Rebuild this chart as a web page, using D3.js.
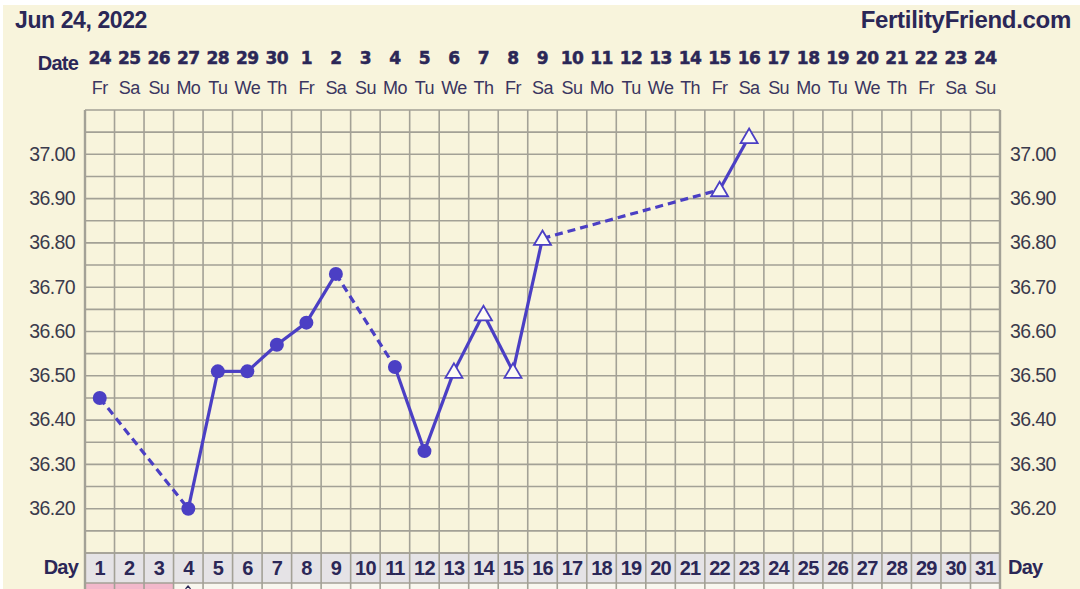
<!DOCTYPE html>
<html>
<head>
<meta charset="utf-8">
<script src="https://cdn.jsdelivr.net/npm/d3@7"></script>
<style>
  body { margin: 0; background: #fff; }
  svg text { font-family: "Liberation Sans", Arial, sans-serif; }
</style>
</head>
<body>
<div id="chart"></div>
<script>
// chart values
var days = d3.range(1, 32)
var dates = ["24","25","26","27","28","29","30","1","2","3","4","5","6","7","8","9","10","11","12","13","14","15","16","17","18","19","20","21","22","23","24"]
var weekdays = ["Fr","Sa","Su","Mo","Tu","We","Th","Fr","Sa","Su","Mo","Tu","We","Th","Fr","Sa","Su","Mo","Tu","We","Th","Fr","Sa","Su","Mo","Tu","We","Th","Fr","Sa","Su"]
var tempDays = [1, 4, 5, 6, 7, 8, 9, 11, 12, 13, 14, 15, 16, 22, 23]
var temps = [36.45, 36.20, 36.51, 36.51, 36.57, 36.62, 36.73, 36.52, 36.33, 36.51, 36.64, 36.51, 36.81, 36.92, 37.04]
var triangleFrom = 13
var pinkDays = [1, 2, 3]
var yTicks = [36.20, 36.30, 36.40, 36.50, 36.60, 36.70, 36.80, 36.90, 37.00]

var W = 1080, H = 589
var navy = "#2b2757", purple = "#4b3fc4", gridc = "#a3a196"
var gLeft = 85, gRight = 1000, gTop = 110, gBottom = 553

var svg = d3.select("#chart").append("svg")
    .attr("width", W).attr("height", H)

svg.append("rect").attr("x", 3).attr("y", 5).attr("width", W - 3).attr("height", H - 5).attr("fill", "#f8f4dc")

var x = d3.scaleBand().domain(days).range([gLeft, gRight])
var y = d3.scaleLinear().domain([36.10, 37.10]).range([gBottom, gTop])

// header
svg.append("text").attr("x", 15).attr("y", 28).text("Jun 24, 2022")
    .attr("font-size", 23).attr("font-weight", "bold").attr("fill", navy).attr("letter-spacing", -0.4)
svg.append("text").attr("x", 1071).attr("y", 28).attr("text-anchor", "end").text("FertilityFriend.com")
    .attr("font-size", 24).attr("font-weight", "bold").attr("fill", navy).attr("letter-spacing", -0.3)
svg.append("text").attr("x", 78).attr("y", 70).attr("text-anchor", "end").text("Date")
    .attr("font-size", 20).attr("font-weight", "bold").attr("fill", navy).attr("letter-spacing", -0.8)

svg.selectAll("text.date").data(days).enter().append("text")
    .attr("class", "date")
    .attr("x", function(d) { return x(d) + x.bandwidth() / 2 })
    .attr("y", 64)
    .attr("text-anchor", "middle")
    .style("font-family", "'DejaVu Sans', sans-serif")
    .attr("font-size", 17).attr("font-weight", "bold").attr("fill", navy)
    .attr("stroke", navy).attr("stroke-width", 0.5)
    .attr("letter-spacing", -0.5)
    .text(function(d, i) { return dates[i] })

svg.selectAll("text.wd").data(days).enter().append("text")
    .attr("class", "wd")
    .attr("x", function(d) { return x(d) + x.bandwidth() / 2 })
    .attr("y", 94)
    .attr("text-anchor", "middle")
    .attr("font-size", 18).attr("fill", "#3a3560").attr("letter-spacing", -0.6)
    .text(function(d, i) { return weekdays[i] })

// grid
var g = svg.append("g")
g.selectAll("line.h").data(d3.range(0, 21)).enter().append("line")
    .attr("x1", gLeft).attr("x2", gRight)
    .attr("y1", function(d) { return y(36.10 + d * 0.05) })
    .attr("y2", function(d) { return y(36.10 + d * 0.05) })
    .attr("stroke", gridc).attr("stroke-width", 1.6)

// day row + bottom row
var rowTop = gBottom, rowBot = 583
svg.selectAll("rect.dayrow").data(days).enter().append("rect")
    .attr("x", function(d) { return x(d) }).attr("y", rowTop)
    .attr("width", x.bandwidth()).attr("height", rowBot - rowTop)
    .attr("fill", "#e5e3e6")
svg.selectAll("rect.low").data(days).enter().append("rect")
    .attr("x", function(d) { return x(d) }).attr("y", rowBot)
    .attr("width", x.bandwidth()).attr("height", H - rowBot)
    .attr("fill", function(d) { return pinkDays.indexOf(d) >= 0 ? "#f2b8cb" : "#f9f7ef" })
svg.append("line").attr("x1", gLeft).attr("x2", gRight).attr("y1", rowBot).attr("y2", rowBot)
    .attr("stroke", gridc).attr("stroke-width", 1.6)
svg.append("line").attr("x1", gLeft).attr("x2", gRight).attr("y1", rowTop).attr("y2", rowTop)
    .attr("stroke", gridc).attr("stroke-width", 1.6)
svg.append("path").attr("d", "M" + (x(4) + 12) + "," + (H) + "l2.5,-3l2.5,3")
    .attr("fill", "none").attr("stroke", navy).attr("stroke-width", 1.2)

g.selectAll("line.v").data(d3.range(0, 32)).enter().append("line")
    .attr("x1", function(d) { return gLeft + d * x.step() })
    .attr("x2", function(d) { return gLeft + d * x.step() })
    .attr("y1", gTop).attr("y2", H)
    .attr("stroke", gridc)
    .attr("stroke-width", function(d) { return d == 0 || d == 31 ? 2.4 : 1.6 })
g.raise()

svg.selectAll("text.day").data(days).enter().append("text")
    .attr("class", "day")
    .attr("x", function(d) { return x(d) + x.bandwidth() / 2 })
    .attr("y", 575)
    .attr("text-anchor", "middle")
    .attr("font-size", 20).attr("font-weight", "bold").attr("fill", navy).attr("letter-spacing", -0.8)
    .text(function(d) { return d })
svg.append("text").attr("x", 78).attr("y", 574).attr("text-anchor", "end").text("Day")
    .attr("font-size", 20).attr("font-weight", "bold").attr("fill", navy).attr("letter-spacing", -0.8)
svg.append("text").attr("x", 1008).attr("y", 574).text("Day")
    .attr("font-size", 20).attr("font-weight", "bold").attr("fill", navy).attr("letter-spacing", -0.8)

// y axes
var axL = svg.append("g").attr("transform", "translate(" + (gLeft - 7) + ",0)")
    .call(d3.axisLeft(y).tickValues(yTicks).tickSize(0).tickFormat(d3.format(".2f")))
var axR = svg.append("g").attr("transform", "translate(" + (gRight + 7) + ",0)")
    .call(d3.axisRight(y).tickValues(yTicks).tickSize(0).tickFormat(d3.format(".2f")))
;[axL, axR].forEach(function(a) {
    a.select(".domain").remove()
    a.selectAll("text")
        .attr("font-family", "Liberation Sans, Arial, sans-serif")
        .attr("font-size", 19.5).attr("fill", "#3b3a4c").attr("letter-spacing", -0.6)
        .attr("dy", "0.3em")
})

// temperature line
var pts = tempDays.map(function(d, i) { return { day: d, t: temps[i] } })
var cx = function(d) { return x(d.day) + x.bandwidth() / 2 }
for (var i = 1; i < pts.length; i++) {
    var a = pts[i - 1], b = pts[i]
    svg.append("line")
        .attr("x1", cx(a)).attr("y1", y(a.t))
        .attr("x2", cx(b)).attr("y2", y(b.t))
        .attr("stroke", purple).attr("stroke-width", 3.2)
        .attr("stroke-dasharray", b.day - a.day > 1 ? "8,5" : null)
}

svg.selectAll("circle.pt").data(pts.filter(function(d) { return d.day < triangleFrom })).enter().append("circle")
    .attr("cx", cx).attr("cy", function(d) { return y(d.t) })
    .attr("r", 7).attr("fill", purple)

svg.selectAll("path.tri").data(pts.filter(function(d) { return d.day >= triangleFrom })).enter().append("path")
    .attr("transform", function(d) { return "translate(" + cx(d) + "," + y(d.t) + ")" })
    .attr("d", "M0,-8L8.5,6.5L-8.5,6.5Z")
    .attr("fill", "#fdfcf4").attr("stroke", purple).attr("stroke-width", 1.8)
</script>
</body>
</html>
